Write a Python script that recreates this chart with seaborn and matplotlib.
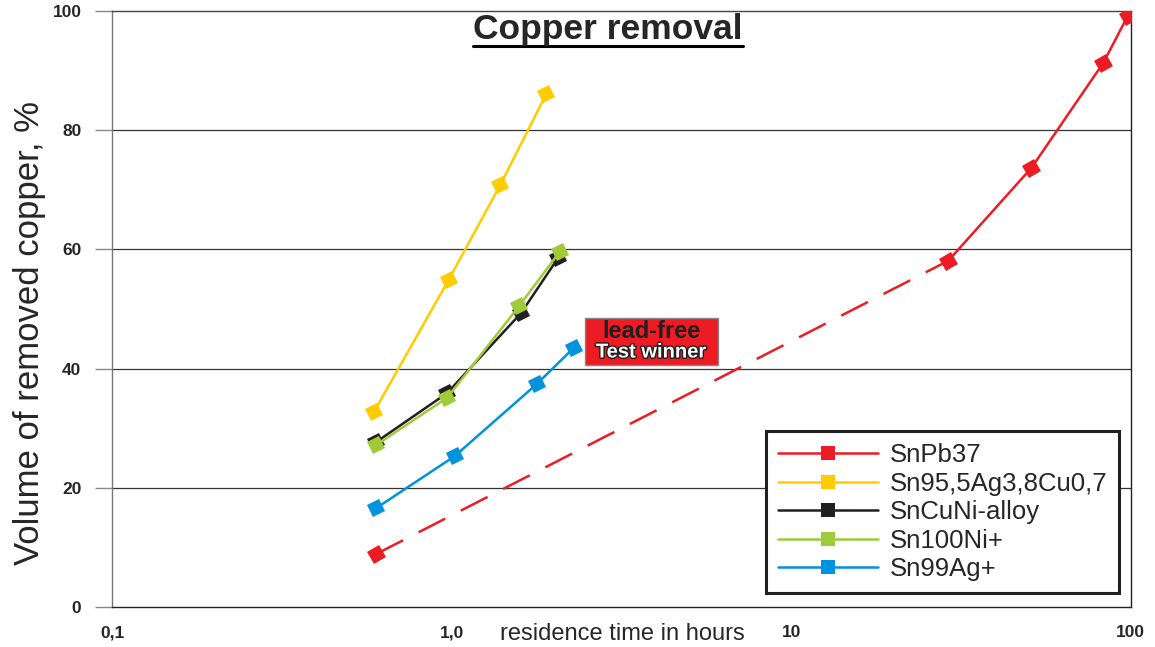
import pandas as pd
import matplotlib
matplotlib.use("Agg")
import matplotlib.pyplot as plt
import matplotlib.patheffects as pe
from matplotlib.lines import Line2D
from matplotlib.markers import MarkerStyle
from matplotlib.patches import Rectangle
from matplotlib.transforms import Affine2D
import seaborn as sns

# data (hours, % copper removed)
sn_pb37_t = [0.6, 29, 51, 83, 98]
sn_pb37_v = [8.9, 58.1, 73.7, 91.3, 99.2]
sac_t = [0.59, 0.98, 1.39, 1.90]
sac_v = [32.7, 54.9, 70.8, 86.1]
sncuni_t = [0.6, 0.97, 1.60, 2.06]
sncuni_v = [27.7, 35.9, 49.3, 58.6]
sn100ni_t = [0.6, 0.97, 1.58, 2.08]
sn100ni_v = [27.2, 35.1, 50.5, 59.6]
sn99ag_t = [0.6, 1.02, 1.78, 2.29]
sn99ag_v = [16.6, 25.3, 37.4, 43.5]

labels = ["SnPb37", "Sn95,5Ag3,8Cu0,7", "SnCuNi-alloy", "Sn100Ni+", "Sn99Ag+"]
colors = ["#ED1C24", "#FFCC00", "#231F20", "#9FCB3B", "#0093DD"]
x_ticks = [0.1, 1, 10, 100]
x_ticklabels = ["0,1", "1,0", "10", "100"]
y_ticks = [0, 20, 40, 60, 80, 100]

sns.set_style("white")
plt.rcParams["font.family"] = ["Liberation Sans", "DejaVu Sans"]

fig = plt.figure(figsize=(11.55, 6.47), dpi=100)
ax = fig.add_axes([0.097, 0.0618, 0.882, 0.921])
ax.set_xscale("log")

tilted = MarkerStyle("s", transform=Affine2D().rotate_deg(30))
lw = 1.8
ms = 10

series = [
    (sac_t, sac_v),
    (sncuni_t, sncuni_v),
    (sn100ni_t, sn100ni_v),
    (sn99ag_t, sn99ag_v),
]
for (t, v), c in zip(series, colors[1:]):
    df = pd.DataFrame({"t": t, "v": v})
    sns.lineplot(data=df, x="t", y="v", ax=ax, color=c, lw=lw, sort=False,
                 marker=tilted, markersize=ms, markeredgewidth=0, zorder=3)

# SnPb37: dashed first step, solid afterwards
red = pd.DataFrame({"t": sn_pb37_t, "v": sn_pb37_v})
sns.lineplot(data=red.iloc[:2], x="t", y="v", ax=ax, color=colors[0], lw=lw,
             sort=False, zorder=3)
ax.lines[-1].set_dashes((12, 7))
sns.lineplot(data=red.iloc[1:], x="t", y="v", ax=ax, color=colors[0], lw=lw,
             sort=False, zorder=3)
sns.scatterplot(data=red, x="t", y="v", ax=ax, color=colors[0], marker=tilted,
                s=ms ** 2, linewidth=0, zorder=4)

ax.set_xlim(0.1, 100)
ax.set_ylim(0, 100)
ax.set_xticks(x_ticks)
ax.set_xticklabels(x_ticklabels, fontweight="bold", fontsize=12.5)
ax.xaxis.set_minor_locator(matplotlib.ticker.FixedLocator([1]))
ax.xaxis.set_minor_formatter(matplotlib.ticker.NullFormatter())
ax.tick_params(axis="x", which="major", length=0, pad=13)
ax.tick_params(axis="x", which="minor", length=8, width=0.8, color="#555555",
               direction="out", bottom=True)
ax.set_yticks(y_ticks)
ax.set_yticklabels([str(v) for v in y_ticks], fontweight="bold", fontsize=12.5)
ax.tick_params(axis="y", length=12, width=1, color="#888888", pad=10, left=True)
for yv in y_ticks[1:-1]:
    ax.axhline(yv, color="#333333", lw=0.9, zorder=1)
for side in ["left", "right", "top", "bottom"]:
    ax.spines[side].set_visible(True)
    ax.spines[side].set_linewidth(1.0)
ax.spines["left"].set_color("#777777")
ax.spines["top"].set_color("#444444")
ax.spines["right"].set_color("#222222")
ax.spines["bottom"].set_color("#222222")
ax.set_xlabel("")
ax.set_ylabel("")

fig.text(622 / 1155, 1 - 634 / 647, "residence time in hours", fontsize=17,
         ha="center", va="center")
fig.text(30 / 1155, 1 - 333 / 647, "Volume of removed copper, %", fontsize=25,
         rotation=90, ha="center", va="center")

title = fig.text(608 / 1155, 1 - 29 / 647, "Copper removal", fontsize=25.5,
                 fontweight="bold", ha="center", va="center")
fig.canvas.draw()
bb = title.get_window_extent().transformed(fig.transFigure.inverted())
fig.add_artist(Line2D([bb.x0, bb.x1], [bb.y0 - 0.001, bb.y0 - 0.001],
                      transform=fig.transFigure, color="black", lw=2.2))

# badge
fig.add_artist(Rectangle((585 / 1155, 1 - 365 / 647), 133 / 1155, 47 / 647,
                         transform=fig.transFigure, facecolor="#ED1C24",
                         edgecolor="#888888", lw=1, zorder=5))
fig.text(651 / 1155, 1 - 331 / 647, "lead-free", fontsize=17, fontweight="bold",
         color="#231F20", ha="center", va="center", zorder=6)
fig.text(651 / 1155, 1 - 352 / 647, "Test winner", fontsize=14.5,
         fontweight="bold", color="white", ha="center", va="center", zorder=6,
         path_effects=[pe.withStroke(linewidth=2, foreground="#231F20")])

handles = [Line2D([], [], color=c, lw=lw, marker="s", markersize=ms,
                  markeredgewidth=0) for c in colors]
leg = ax.legend(handles, labels, loc="lower right",
                bbox_to_anchor=(0.988, 0.0235), fontsize=18.5, frameon=True,
                fancybox=False, handlelength=3.9, labelspacing=0.18,
                borderpad=0.45, handletextpad=0.45, borderaxespad=0)
leg.get_frame().set_edgecolor("#231F20")
leg.get_frame().set_linewidth(2.2)
leg.get_frame().set_alpha(1)

fig.savefig("out.png", dpi=100)
